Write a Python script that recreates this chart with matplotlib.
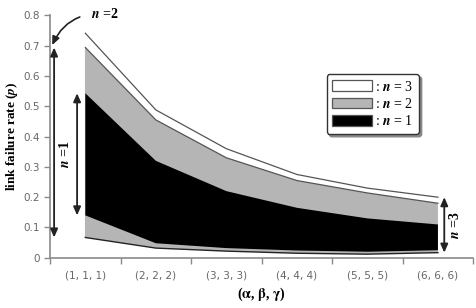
import matplotlib.pyplot as plt
import numpy as np
from matplotlib.patches import Patch

plt.rcParams['mathtext.fontset'] = 'stix'

categories = ['(1, 1, 1)', '(2, 2, 2)', '(3, 3, 3)', '(4, 4, 4)', '(5, 5, 5)', '(6, 6, 6)']
# band edges
white_top = [0.741, 0.488, 0.360, 0.275, 0.230, 0.200]
gray_top = [0.694, 0.455, 0.330, 0.255, 0.214, 0.180]
black_top = [0.543, 0.320, 0.220, 0.165, 0.130, 0.110]
black_bottom = [0.140, 0.048, 0.032, 0.024, 0.020, 0.025]
gray_bottom = [0.067, 0.032, 0.022, 0.015, 0.012, 0.017]

x = np.arange(len(categories))
edge = '#555555'
axis_grey = '#8a8a8a'
label_grey = '#666666'
serif = 'Liberation Serif'

fig = plt.figure(figsize=(4.77, 3.08), dpi=100)
ax = fig.add_axes([0.105, 0.163, 0.887, 0.787])

ax.fill_between(x, gray_bottom, white_top, facecolor='white', edgecolor='none', zorder=1)
ax.fill_between(x, gray_bottom, gray_top, facecolor='#b5b5b5', edgecolor='none', zorder=2)
ax.fill_between(x, black_bottom, black_top, facecolor='black', edgecolor='none', zorder=3)
ax.plot(x, white_top, color=edge, lw=0.9, zorder=4)
ax.plot(x, gray_top, color=edge, lw=0.9, zorder=4)
ax.plot(x, gray_bottom, color='#222222', lw=1.0, zorder=4)
ax.plot([x[0], x[0]], [gray_bottom[0], gray_top[0]], color='#b5b5b5', lw=0.8, zorder=2)

ax.set_xlim(-0.5, 5.5)
ax.set_ylim(0, 0.8)
ax.set_xticks(x)
ax.set_xticklabels(categories)
ax.set_xticks(np.arange(-0.5, 6.0, 1.0), minor=True)
ax.tick_params(axis='x', which='major', length=0, pad=9, labelsize=7.5, labelcolor=label_grey)
ax.tick_params(axis='x', which='minor', length=4, direction='out', color=axis_grey, width=1)
ax.set_yticks(np.arange(0, 0.81, 0.1))
ax.set_yticklabels(['0'] + ['%.1f' % v for v in np.arange(0.1, 0.81, 0.1)])
ax.tick_params(axis='y', length=4, direction='out', color=axis_grey, width=1,
               labelsize=7.5, labelcolor=label_grey, pad=3)
for s in ['top', 'right']:
    ax.spines[s].set_visible(False)
for s in ['left', 'bottom']:
    ax.spines[s].set_color(axis_grey)
    ax.spines[s].set_linewidth(1.2)

ax.set_ylabel(r'link failure rate ($\boldsymbol{p}$)', family=serif, fontweight='bold',
              fontsize=9.5, labelpad=3)
ax.set_xlabel(r'($\mathbf{\alpha}$, $\mathbf{\beta}$, $\mathbf{\gamma}$)', family=serif,
              fontweight='bold', fontsize=10, labelpad=4)

arrow_kw = dict(arrowstyle='<|-|>,head_length=0.5,head_width=0.22', color='#222222', lw=1.3,
                shrinkA=0, shrinkB=0)
ax.annotate('', xy=(-0.443, gray_top[0]), xytext=(-0.443, gray_bottom[0]),
            arrowprops=arrow_kw, annotation_clip=False)
ax.annotate('', xy=(-0.117, black_top[0]), xytext=(-0.117, black_bottom[0]),
            arrowprops=arrow_kw, annotation_clip=False)
ax.annotate('', xy=(5.09, white_top[-1]), xytext=(5.09, gray_bottom[-1]),
            arrowprops=arrow_kw, annotation_clip=False)

ax.text(-0.29, 0.34, r'$\boldsymbol{n}$ =1', rotation=90, ha='center', va='center',
        family=serif, fontweight='bold', fontsize=10)
ax.text(5.24, 0.107, r'$\boldsymbol{n}$ =3', rotation=90, ha='center', va='center',
        family=serif, fontweight='bold', fontsize=10)
ax.annotate(r'$\boldsymbol{n}$ =2', xy=(-0.47, 0.702), xytext=(0.27, 0.805),
            ha='center', va='center', family=serif, fontweight='bold', fontsize=10,
            annotation_clip=False,
            arrowprops=dict(arrowstyle='-|>,head_length=0.5,head_width=0.22', color='#222222',
                            lw=1.2, shrinkA=6, shrinkB=0, connectionstyle='arc3,rad=0.35'))

handles = [Patch(facecolor='white', edgecolor=edge, lw=0.9),
           Patch(facecolor='#b5b5b5', edgecolor=edge, lw=0.9),
           Patch(facecolor='black', edgecolor=edge, lw=0.9)]
labels = [r': $\boldsymbol{n}$ = 3', r': $\boldsymbol{n}$ = 2', r': $\boldsymbol{n}$ = 1']
leg = ax.legend(handles, labels, loc='upper left', bbox_to_anchor=(0.637, 0.787),
                fancybox=True, shadow={'color': '#888888', 'alpha': 1}, framealpha=1,
                edgecolor='#333333', prop={'family': serif, 'size': 10},
                handlelength=2.9, handleheight=0.8, handletextpad=0.2,
                labelspacing=0.25, borderpad=0.4)
leg.get_frame().set_linewidth(1.0)

fig.savefig('out.png', dpi=100)
